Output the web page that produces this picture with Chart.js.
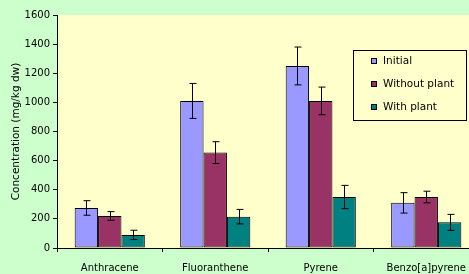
<!DOCTYPE html>
<html>
<head>
<meta charset="utf-8">
<script src="https://cdn.jsdelivr.net/npm/chart.js@4"></script>
<style>
  html, body { margin:0; padding:0; overflow:hidden; background:#CCFFCC; }
  #wrap { width:480px; height:274px; }
</style>
</head>
<body>
<div id="wrap"><canvas id="myChart" width="480" height="274"></canvas></div>
<script>
// data
const compounds = ['Anthracene', 'Fluoranthene', 'Pyrene', 'Benzo[a]pyrene'];
const seriesNames = ['Initial', 'Without plant', 'With plant'];
const initial      = [275, 1010, 1250, 310];
const withoutPlant = [220, 655, 1010, 350];
const withPlant    = [90, 215, 350, 176];
const initialErr      = [50, 120, 130, 70];
const withoutPlantErr = [30, 75, 95, 40];
const withPlantErr    = [32, 50, 80, 55];
const yTicks = [0, 200, 400, 600, 800, 1000, 1200, 1400, 1600];

const colors = ['#9999FF', '#993366', '#008080'];
const FONT = 'DejaVu Sans';

const bgPlugin = {
  id: 'bg',
  beforeDraw(chart) {
    const c = chart.ctx, a = chart.chartArea;
    c.save();
    c.fillStyle = '#CCFFCC';
    c.fillRect(0, 0, chart.width, chart.height);
    c.fillStyle = '#FFFFCC';
    c.fillRect(a.left, a.top, a.right - a.left, a.bottom - a.top);
    c.restore();
  }
};

const errPlugin = {
  id: 'errbars',
  afterDatasetsDraw(chart) {
    const c = chart.ctx, y = chart.scales.y;
    c.save();
    c.strokeStyle = '#000';
    c.lineWidth = 1;
    chart.data.datasets.forEach((ds, i) => {
      const meta = chart.getDatasetMeta(i);
      meta.data.forEach((bar, j) => {
        const x = Math.round(bar.x) + 0.5;
        const hi = y.getPixelForValue(ds.data[j] + ds.err[j]);
        const lo = y.getPixelForValue(ds.data[j] - ds.err[j]);
        c.beginPath();
        c.moveTo(x, hi); c.lineTo(x, lo);
        c.moveTo(x - 3, hi); c.lineTo(x + 4, hi);
        c.moveTo(x - 3, lo); c.lineTo(x + 4, lo);
        c.stroke();
      });
    });
    c.restore();
  }
};

const legendPlugin = {
  id: 'boxlegend',
  afterDraw(chart) {
    const c = chart.ctx;
    c.save();
    c.fillStyle = '#FFFFCC';
    c.fillRect(353, 50, 114, 71);
    c.strokeStyle = '#000';
    c.lineWidth = 1;
    c.strokeRect(353.5, 50.5, 113, 70);
    c.font = '10.5px "' + FONT + '"';
    c.textBaseline = 'middle';
    chart.data.datasets.forEach((ds, i) => {
      const yy = 61 + i * 23;
      c.fillStyle = ds.backgroundColor;
      c.fillRect(371, yy - 3, 6, 6);
      c.strokeRect(371.5, yy - 2.5, 5, 5);
      c.fillStyle = '#000';
      c.fillText(ds.label, 383, yy);
    });
    c.restore();
  }
};

const ctx = document.getElementById('myChart');

new Chart(ctx, {
  type: 'bar',
  data: {
    labels: compounds,
    datasets: [
      { label: seriesNames[0], data: initial, err: initialErr, backgroundColor: colors[0] },
      { label: seriesNames[1], data: withoutPlant, err: withoutPlantErr, backgroundColor: colors[1] },
      { label: seriesNames[2], data: withPlant, err: withPlantErr, backgroundColor: colors[2] }
    ].map(d => Object.assign(d, { borderColor: '#000', borderWidth: 1, borderSkipped: false,
                                   categoryPercentage: 0.665, barPercentage: 1 }))
  },
  options: {
    responsive: false,
    animation: false,
    layout: { padding: { top: 15, right: 1, left: 0, bottom: 0 } },
    plugins: { legend: { display: false }, tooltip: { enabled: false } },
    scales: {
      x: {
        grid: { offset: true, drawOnChartArea: false, color: '#000', tickLength: 4 },
        border: { color: '#000' },
        ticks: { color: '#000', font: { family: FONT, size: 10 }, padding: 10, maxRotation: 0 },
        afterFit(s) { s.height = 26; }
      },
      y: {
        min: 0, max: 1600,
        afterBuildTicks(s) { s.ticks = yTicks.map(v => ({ value: v })); },
        grid: { drawOnChartArea: false, color: '#000', tickLength: 4 },
        border: { color: '#000' },
        ticks: { color: '#000', font: { family: FONT, size: 10 }, padding: 3,
                 callback: v => String(v) },
        title: { display: true, text: 'Concentration (mg/kg dw)', color: '#000',
                 font: { family: FONT, size: 10.5 }, padding: { top: 10, bottom: 0 } },
        afterFit(s) { s.width = 57; }
      }
    }
  },
  plugins: [bgPlugin, errPlugin, legendPlugin]
});
</script>
</body>
</html>
